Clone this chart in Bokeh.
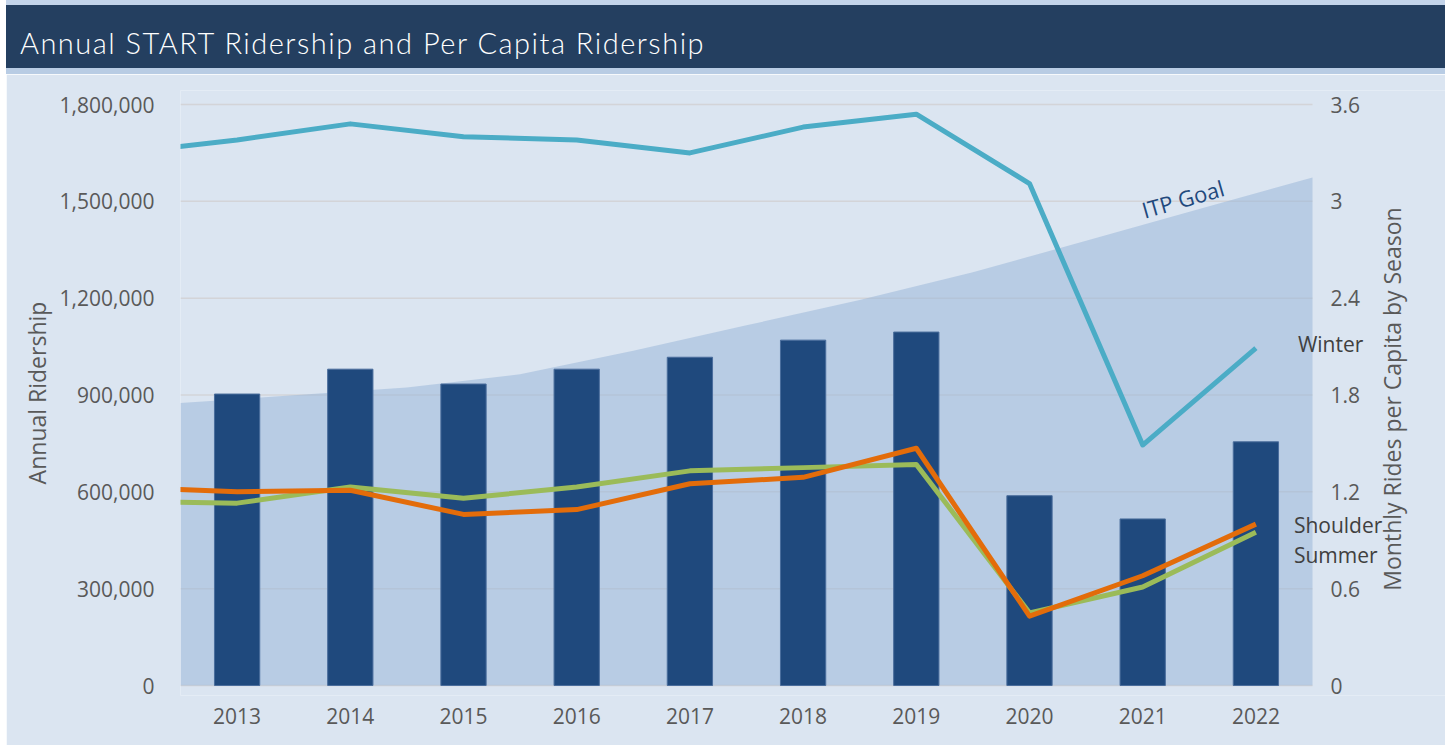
from bokeh.plotting import figure
from bokeh.models import (Range1d, FixedTicker, NumeralTickFormatter, Label, Div)
from bokeh.core.properties import value
from bokeh.layouts import column
from bokeh.embed import file_html
from bokeh.resources import INLINE

# ---------------- data ----------------
years = [2013, 2014, 2015, 2016, 2017, 2018, 2019, 2020, 2021, 2022]
year_labels = [str(y) for y in years]
annual_ridership = [903000, 980000, 934000, 980000, 1017000, 1070000, 1095000, 588000, 516000, 755000]

# per-capita lines (secondary axis); the 2012 point only shows as the clipped lead-in
line_years = [2012, 2013, 2014, 2015, 2016, 2017, 2018, 2019, 2020, 2021, 2022]
winter = [3.30, 3.38, 3.48, 3.40, 3.38, 3.30, 3.46, 3.54, 3.11, 1.49, 2.09]
shoulder = [1.23, 1.20, 1.21, 1.06, 1.09, 1.25, 1.29, 1.47, 0.43, 0.68, 1.00]
summer = [1.14, 1.13, 1.23, 1.16, 1.23, 1.33, 1.35, 1.37, 0.45, 0.61, 0.95]

# ITP goal (area, spans the whole plot width)
itp_years = [2012.5, 2013.5, 2014.5, 2015.5, 2016.5, 2017.5, 2018.5, 2019.5, 2020.5, 2021.5, 2022.5]
itp_goal = [875000, 899000, 923000, 964000, 1037000, 1116000, 1194000, 1280000, 1378000, 1476000, 1574000]

left_ticks = [0, 300000, 600000, 900000, 1200000, 1500000, 1800000]
right_ticks = [0, 0.6, 1.2, 1.8, 2.4, 3.0, 3.6]
right_tick_labels = ["%g" % v for v in right_ticks]

TITLE = "Annual START Ridership and Per Capita Ridership"
LEFT_LABEL = "Annual Ridership"
RIGHT_LABEL = "Monthly Rides per Capita by Season"

# ---------------- styles ----------------
FONT = "Open Sans"
W = 1439
BG = "#dbe5f1"
TICK_COLOR = "#595959"
LBL = "#404040"
PLOT_PX = 1132       # width of the category area in px
FRAME_PX = 1265      # frame extends to the right edge so side texts are not clipped
AXIS_PX = 581        # height of the 0..max span in px
PAD_TOP_PX = 14      # frame padding above / below the axis span (keeps tick texts unclipped)
PAD_BOT_PX = 10

x_start = years[0] - 0.5
x_data_end = years[-1] + 0.5
x_end = x_start + (x_data_end - x_start) * FRAME_PX / PLOT_PX

L_MAX, R_MAX = left_ticks[-1], right_ticks[-1]
l_per_px, r_per_px = L_MAX / AXIS_PX, R_MAX / AXIS_PX
y_left = Range1d(-PAD_BOT_PX * l_per_px, L_MAX + PAD_TOP_PX * l_per_px)
y_right = Range1d(-PAD_BOT_PX * r_per_px, R_MAX + PAD_TOP_PX * r_per_px)

# ---------------- title bar ----------------
title_div = Div(
    text=('<div style="box-sizing:border-box;width:%dpx;height:74px;background:#243f60;'
          'border-top:5px solid #c3d4ea;border-bottom:6px solid #b8cce4;padding:24px 0 0 14px;'
          'font-family:Lato,\'Open Sans\',sans-serif;font-weight:300;font-size:29px;line-height:28px;'
          'letter-spacing:1.5px;color:#ffffff;white-space:nowrap;">%s</div>') % (W, TITLE),
    width=W, height=74, margin=(0, 0, 0, 0))

# ---------------- figure ----------------
p = figure(width=W, height=671, output_backend="svg", toolbar_location=None,
           x_range=Range1d(x_start, x_end), y_range=y_left,
           background_fill_color=BG, border_fill_color=BG,
           min_border_left=174, min_border_right=0,
           min_border_top=30 - PAD_TOP_PX, min_border_bottom=60 - PAD_BOT_PX,
           margin=(0, 0, 0, 0))
p.outline_line_color = None
p.extra_y_ranges = {"right": y_right}
p.xgrid.grid_line_color = None
p.ygrid.grid_line_color = None

# horizontal gridlines (only across the category area)
p.segment(x0=x_start, x1=x_data_end, y0=left_ticks, y1=left_ticks,
          line_color="#d3d4d8", line_width=1.5)

# ITP goal area
p.varea(x=itp_years, y1=0, y2=itp_goal, fill_color="#95b3d7", fill_alpha=0.5)

# bars
p.vbar(x=years, top=annual_ridership, bottom=0, width=0.4, fill_color="#1f497d",
       line_color="#4a6d9c", line_width=1)

# lines
p.line(line_years, winter, y_range_name="right", line_color="#4bacc6", line_width=5, line_join="round")
p.line(line_years, summer, y_range_name="right", line_color="#9bbb59", line_width=5, line_join="round")
p.line(line_years, shoulder, y_range_name="right", line_color="#e36c0a", line_width=5, line_join="round")

# left axis
ya = p.yaxis[0]
ya.ticker = FixedTicker(ticks=left_ticks)
ya.formatter = NumeralTickFormatter(format="0,0")
ya.axis_label = LEFT_LABEL

# bottom axis
xa = p.xaxis[0]
xa.ticker = FixedTicker(ticks=years)
xa.major_label_overrides = {y: s for y, s in zip(years, year_labels)}

for ax in (ya, xa):
    ax.axis_line_color = None
    ax.major_tick_line_color = None
    ax.minor_tick_line_color = None
    ax.major_label_text_font = FONT
    ax.major_label_text_font_size = "21px"
    ax.major_label_text_color = TICK_COLOR
    ax.axis_label_text_font = FONT
    ax.axis_label_text_font_size = "23px"
    ax.axis_label_text_font_style = "normal"
    ax.axis_label_text_color = TICK_COLOR
ya.major_label_standoff = 20
ya.axis_label_standoff = 4
xa.major_label_standoff = 16 - PAD_BOT_PX

# secondary (right) scale: tick labels and title drawn on the right range
p.text(x=[x_data_end] * len(right_ticks), y=right_ticks, text=right_tick_labels,
       y_range_name="right", x_offset=18, text_align="left", text_baseline="middle",
       text_font=value(FONT), text_font_size="21px", text_color=TICK_COLOR)
p.text(x=[x_data_end], y=[(right_ticks[0] + right_ticks[-1]) / 2], text=[RIGHT_LABEL],
       y_range_name="right", x_offset=79, y_offset=4, angle=90, angle_units="deg",
       text_align="center", text_baseline="middle",
       text_font=value(FONT), text_font_size="23px", text_color=TICK_COLOR)

# series labels next to the last points
for name, series, dx, dy in (("Winter", winter, 42, 4), ("Shoulder", shoulder, 38, -1),
                             ("Summer", summer, 38, -23)):
    p.add_layout(Label(x=years[-1], y=series[-1], y_range_name="right", text=name,
                       x_offset=dx, y_offset=dy, text_baseline="middle", text_align="left",
                       text_font=FONT, text_font_size="21px", text_color=LBL))

# ITP goal label along the area edge
p.add_layout(Label(x=itp_years[-2], y=itp_goal[-2], text="ITP Goal",
                   x_offset=-57, y_offset=-1, angle=16, angle_units="deg",
                   text_baseline="alphabetic", text_align="left",
                   text_font=FONT, text_font_size="22px", text_color="#1f497d"))

layout = column(title_div, p, spacing=0, margin=(0, 4, 0, 6))
open("out.html", "w").write(file_html(layout, INLINE))
